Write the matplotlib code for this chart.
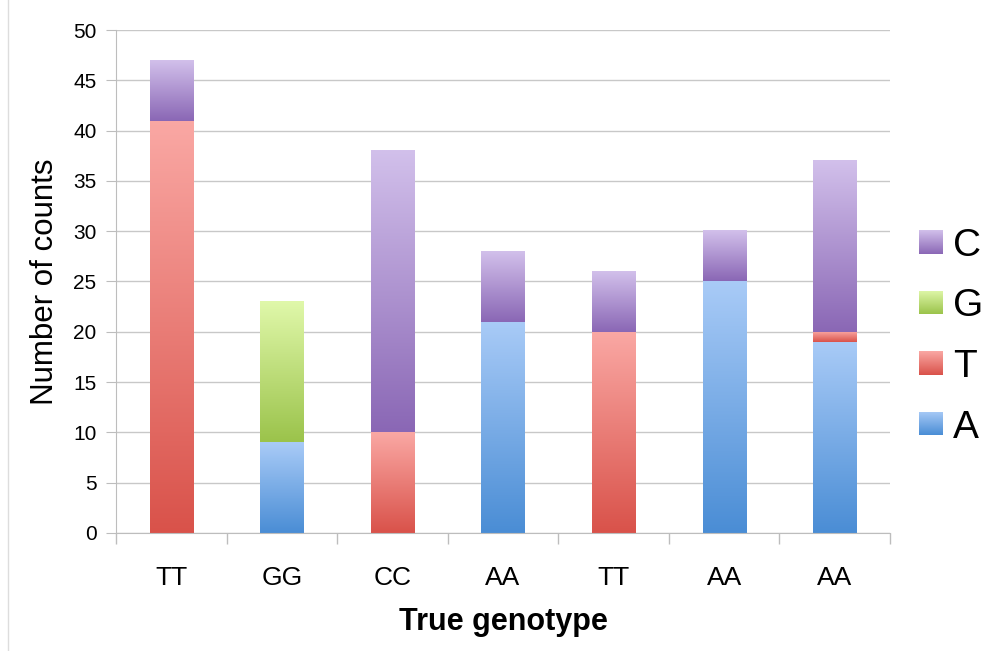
import matplotlib
matplotlib.use("Agg")
import matplotlib.pyplot as plt
import numpy as np
from matplotlib.colors import LinearSegmentedColormap

plt.rcParams["font.family"] = ["Liberation Sans", "DejaVu Sans"]

categories = ["TT", "GG", "CC", "AA", "TT", "AA", "AA"]
count_A = [0, 9, 0, 21, 0, 25, 19]
count_T = [41, 0, 10, 0, 20, 0, 1]
count_G = [0, 14, 0, 0, 0, 0, 0]
count_C = [6, 0, 28, 7, 6, 5, 17]

series = [("A", count_A), ("T", count_T), ("G", count_G), ("C", count_C)]
# (bottom colour, top colour) of the gradient
shades = {
    "A": ("#4a8dd5", "#a9cbf7"),
    "T": ("#d9524a", "#faa8a4"),
    "G": ("#9bc34b", "#e0f8aa"),
    "C": ("#8a67b5", "#d2c0eb"),
}
cmaps = {k: LinearSegmentedColormap.from_list(k, v) for k, v in shades.items()}
grad = np.linspace(0, 1, 256).reshape(-1, 1)

fig = plt.figure(figsize=(9.86, 6.51), dpi=100)
ax = fig.add_axes([0.1177, 0.1813, 0.785, 0.7726])

x = np.arange(len(categories))
width = 0.39
bottom = np.zeros(len(categories))
for name, vals in series:
    vals = np.array(vals, dtype=float)
    bars = ax.bar(x, vals, width, bottom=bottom, color="none", zorder=2)
    for rect, v in zip(bars, vals):
        if v <= 0:
            continue
        x0, y0 = rect.get_x(), rect.get_y()
        ax.imshow(grad, extent=(x0, x0 + rect.get_width(), y0, y0 + rect.get_height()),
                  origin="lower", cmap=cmaps[name], aspect="auto", zorder=2)
    bottom += vals

ax.set_xlim(-0.5, len(categories) - 0.5)
ax.set_ylim(0, 50)
ax.set_yticks(np.arange(0, 51, 5))
ax.set_xticks(x)
ax.set_xticklabels(categories)
ax.set_xticks(np.arange(-0.5, len(categories), 1), minor=True)
ax.tick_params(axis="x", which="major", length=0, labelsize=19, pad=24)
ax.tick_params(axis="x", which="minor", length=8, color="#bdbdbd", width=1)
ax.tick_params(axis="y", length=7, color="#bdbdbd", labelsize=15, pad=7)
ax.yaxis.grid(True, color="#c8c8c8", linewidth=1)
ax.set_axisbelow(True)
for s in ["top", "right"]:
    ax.spines[s].set_visible(False)
for s in ["left", "bottom"]:
    ax.spines[s].set_color("#bdbdbd")

ax.set_ylabel("Number of counts", fontsize=22.5)
ax.yaxis.set_label_coords(-0.073, 0.5)
ax.set_xlabel("True genotype", fontsize=22, fontweight="bold")
ax.xaxis.set_label_coords(0.5, -0.148)

# legend with gradient squares
legend_items = ["C", "G", "T", "A"]
for i, name in enumerate(legend_items):
    yc = 242 + i * 60.5
    sq = fig.add_axes([919 / 986, 1 - (yc + 12) / 651, 24 / 986, 24 / 651])
    sq.imshow(grad, origin="lower", cmap=cmaps[name], aspect="auto")
    sq.axis("off")
    fig.text(953 / 986, 1 - yc / 651, name, fontsize=28, va="center_baseline", ha="left")

# faint frame line on the left
fig.add_artist(plt.Line2D([8 / 986, 8 / 986], [0, 1], color="#dddddd", linewidth=1))

fig.savefig("out.png", dpi=100)
